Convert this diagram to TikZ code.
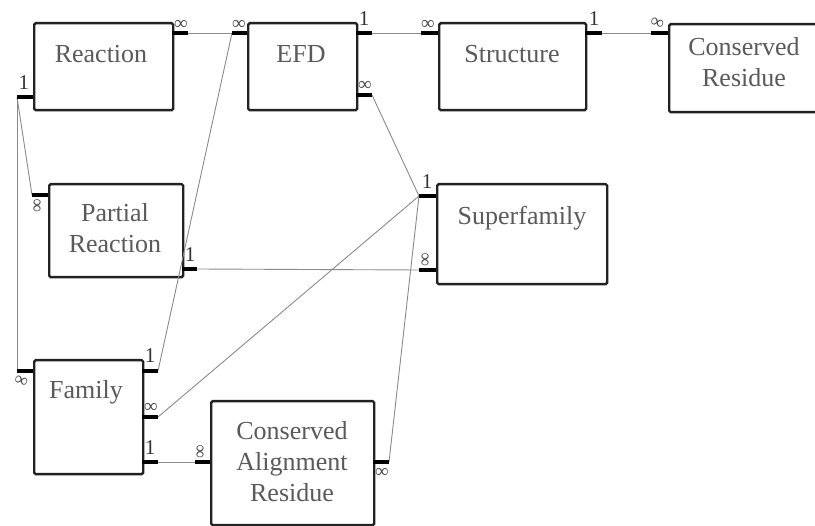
\documentclass[tikz,border=0pt]{standalone}
\usepackage{fontspec}
\setmainfont{Liberation Serif}
\definecolor{boxline}{HTML}{222222}
\definecolor{txt}{HTML}{5A5A5A}
\definecolor{conncol}{HTML}{8A8A8A}
\tikzset{
  ebox/.style={draw=boxline, line width=2.4pt, rounded corners=1.5pt, fill=white, anchor=north west, inner sep=0pt},
  etext/.style={text=txt, font=\fontsize{26}{31}\selectfont, align=center, anchor=base, inner sep=0pt},
  stub/.style={line width=4pt, black},
  link/.style={line width=0.9pt, draw=conncol},
  one/.style={font=\fontsize{21}{21}\selectfont, text=black!80, inner sep=0pt},
  many/.style={font=\fontsize{19}{19}\selectfont, text=black!70, inner sep=0pt}
}
\begin{document}
\begin{tikzpicture}[x=1pt,y=-1pt]
\useasboundingbox (0,0) rectangle (815,526);
% boxes
\node[ebox, minimum width=139pt, minimum height=87pt] (reaction) at (33,22) {};
\node[ebox, minimum width=109pt, minimum height=87pt] (efd) at (247,22) {};
\node[ebox, minimum width=147pt, minimum height=87pt] (structure) at (438,22) {};
\node[ebox, minimum width=160pt, minimum height=88pt] (cres) at (668,23) {};
\node[ebox, minimum width=134pt, minimum height=93pt] (partial) at (48,183) {};
\node[ebox, minimum width=170pt, minimum height=100pt] (superfam) at (436,183) {};
\node[ebox, minimum width=109pt, minimum height=114pt] (family) at (33,359) {};
\node[ebox, minimum width=163pt, minimum height=124pt] (car) at (210,400) {};
% texts (anchor=base is the baseline of the last line)
\node[etext] (reactionT) at (101,63) {Reaction};
\node[etext] (efdT) at (301,63) {EFD};
\node[etext] (structureT) at (512,63) {Structure};
\node[etext] (cresT) at (744,87) {Conserved\\Residue};
\node[etext] (partialT) at (115,253) {Partial\\Reaction};
\node[etext] (superfamT) at (522,225) {Superfamily};
\node[etext] (familyT) at (86,399) {Family};
\node[etext] (carT) at (292,502) {Conserved\\Alignment\\Residue};
% stub coordinates
\coordinate (a1) at (172,33);  \coordinate (a2) at (188,33);   % Reaction right
\coordinate (b1) at (247,33);  \coordinate (b2) at (232,33);   % EFD left
\coordinate (c1) at (356,33);  \coordinate (c2) at (372,33);   % EFD right top
\coordinate (d1) at (438,33);  \coordinate (d2) at (421,33);   % Structure left
\coordinate (e1) at (585,33);  \coordinate (e2) at (602,33);   % Structure right
\coordinate (f1) at (668,33);  \coordinate (f2) at (651,33);   % CRes left
\coordinate (g1) at (356,95);  \coordinate (g2) at (372,95);   % EFD right low
\coordinate (h1) at (33,97);   \coordinate (h2) at (17,97);    % Reaction left
\coordinate (i1) at (48,195);  \coordinate (i2) at (32,195);   % Partial left
\coordinate (j1) at (182,269); \coordinate (j2) at (197,269);  % Partial right
\coordinate (k1) at (436,196); \coordinate (k2) at (419,196);  % Superfamily left 1
\coordinate (l1) at (436,270); \coordinate (l2) at (419,270);  % Superfamily left many
\coordinate (m1) at (33,371);  \coordinate (m2) at (17,371);   % Family left
\coordinate (n1) at (142,371); \coordinate (n2) at (158,371);  % Family right 1
\coordinate (o1) at (142,417); \coordinate (o2) at (158,417);  % Family right many
\coordinate (p1) at (142,462); \coordinate (p2) at (158,462);  % Family right 1 low
\coordinate (q1) at (210,462); \coordinate (q2) at (195,462);  % CAR left
\coordinate (r1) at (373,462); \coordinate (r2) at (389,462);  % CAR right
% connectors
\draw[link] (a2) -- (b2);
\draw[link] (c2) -- (d2);
\draw[link] (e2) -- (f2);
\draw[link] (h2) -- (i2);
\draw[link] (h2) -- (m2);
\draw[link] (b2) -- (n2);
\draw[link] (g2) -- (k2);
\draw[link] (k2) -- (o2);
\draw[link] (k2) -- (r2);
\draw[link] (j2) -- (l2);
\draw[link] (p2) -- (q2);
% stubs
\foreach \s in {a,b,c,d,e,f,g,h,i,j,k,l,m,n,o,p,q,r}{\draw[stub] (\s1) -- (\s2);}
% labels
\node[many] (la) at (181,25) {∞};
\node[many] (lb) at (239,25) {∞};
\node[one]  (lc) at (364,19) {1};
\node[many] (ld) at (428,25) {∞};
\node[one]  (le) at (594,19) {1};
\node[many, rotate=-20] (lf) at (657,24) {∞};
\node[many] (lg) at (365,86) {∞};
\node[one]  (lh) at (24,83) {1};
\node[many, rotate=90] (li) at (38,206) {∞};
\node[one]  (lj) at (190,255) {1};
\node[one]  (lk) at (427,182) {1};
\node[many, rotate=90] (ll) at (426,260) {∞};
\node[many, rotate=-20] (lm) at (21,382) {∞};
\node[one]  (ln) at (150,356) {1};
\node[many] (lo) at (151,408) {∞};
\node[one]  (lp) at (150,448) {1};
\node[many, rotate=90] (lq) at (201,452) {∞};
\node[many] (lr) at (382,473) {∞};
\end{tikzpicture}
\end{document}
